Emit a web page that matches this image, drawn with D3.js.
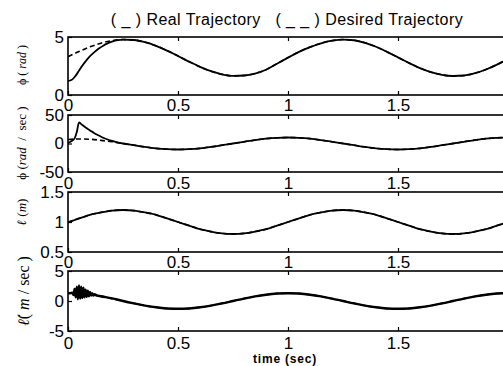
<!DOCTYPE html>
<html>
<head>
<meta charset="utf-8">
<script src="https://cdn.jsdelivr.net/npm/d3@7/dist/d3.min.js"></script>
<style>
  body { margin: 0; background: #fff; }
  svg { display: block; font-family: "Liberation Sans", Arial, sans-serif; }
</style>
</head>
<body>
<svg id="chart" width="503" height="366"></svg>
<script>
// time samples (sec)
var tGrid = [0, 0.05, 0.1, 0.15, 0.2, 0.25, 0.3, 0.35, 0.4, 0.45, 0.5, 0.55, 0.6, 0.65, 0.7, 0.75, 0.8, 0.85, 0.9, 0.95,
             1, 1.05, 1.1, 1.15, 1.2, 1.25, 1.3, 1.35, 1.4, 1.45, 1.5, 1.55, 1.6, 1.65, 1.7, 1.75, 1.8, 1.85, 1.9, 1.95, 2];

// phi (rad), desired
var phiDesired = [3.3, 3.75, 4.15, 4.47, 4.68, 4.78, 4.74, 4.55, 4.24, 3.83, 3.36, 2.88, 2.43, 2.05, 1.78, 1.65, 1.68, 1.85, 2.18, 2.7,
                  3.22, 3.72, 4.13, 4.46, 4.68, 4.78, 4.72, 4.5, 4.16, 3.72, 3.24, 2.76, 2.32, 1.97, 1.74, 1.64, 1.68, 1.88, 2.2, 2.62, 3.1];
// phi (rad), real, start transient
var phiRealT = [0, 0.01, 0.02, 0.03, 0.04, 0.05, 0.06, 0.08, 0.1, 0.12, 0.14, 0.16, 0.18, 0.2, 0.22];
var phiReal  = [1.22, 1.25, 1.35, 1.55, 1.8, 2.1, 2.4, 2.9, 3.35, 3.7, 4.0, 4.25, 4.45, 4.6, 4.7];

// phi dot (rad/sec)
var phiDotDesired = [7, 8, 7.5, 5.5, 3, 0, -3, -6, -8.5, -10, -10.5, -10, -8.5, -6, -3, 0, 3, 6, 8.5, 10,
                     10.5, 10, 8.5, 6, 3, 0, -3, -6, -8.5, -10, -10.5, -10, -8.5, -6, -3, 0, 3, 6, 8.5, 10, 10.5];
var phiDotRealT = [0, 0.015, 0.03, 0.04, 0.05, 0.06, 0.08, 0.1, 0.12, 0.14, 0.16, 0.18, 0.2, 0.22];
var phiDotReal  = [1, 4, 9, 20, 37, 34, 28, 23, 18, 14, 10, 7, 4.5, 2.5];

// l (m)
var lenDesired = [1.0, 1.06, 1.12, 1.16, 1.19, 1.2, 1.19, 1.16, 1.12, 1.06, 1.0, 0.94, 0.88, 0.84, 0.81, 0.8, 0.81, 0.84, 0.88, 0.94,
                  1.0, 1.06, 1.12, 1.16, 1.19, 1.2, 1.19, 1.16, 1.12, 1.06, 1.0, 0.94, 0.88, 0.84, 0.81, 0.8, 0.81, 0.84, 0.88, 0.94, 1.0];
var lenRealT = [0];
var lenReal  = [0.99];

// l dot (m/sec)
var lenDotDesired = [1.3, 1.24, 1.05, 0.76, 0.4, 0, -0.4, -0.76, -1.05, -1.24, -1.3, -1.24, -1.05, -0.76, -0.4, 0, 0.4, 0.76, 1.05, 1.24,
                     1.3, 1.24, 1.05, 0.76, 0.4, 0, -0.4, -0.76, -1.05, -1.24, -1.3, -1.24, -1.05, -0.76, -0.4, 0, 0.4, 0.76, 1.05, 1.24, 1.3];
var lenDotRealT = [0, 0.01, 0.02, 0.025, 0.03, 0.035, 0.04, 0.045, 0.05, 0.055, 0.06, 0.065, 0.07, 0.075, 0.08, 0.085,
                   0.09, 0.095, 0.1, 0.105, 0.11, 0.115, 0.12, 0.13, 0.15, 0.2];
var lenDotReal  = [1.3, 1.3, 1.4, 1.0, 2.0, 0.6, 2.4, 0.3, 2.6, 0.4, 2.4, 0.5, 2.2, 0.6, 1.9, 0.7,
                   1.7, 0.8, 1.5, 0.9, 1.3, 0.9, 1.15, 0.95, 0.8, 0.45];

var xTicks = [0, 0.5, 1, 1.5, 2];
var xTickLabels = [0, 0.5, 1, 1.5];

var panels = [
  { top: 37,  bottom: 95,  domain: [0, 5],     ticks: [0, 5],       pad: 3.5, des: phiDesired,    rt: phiRealT,    rv: phiReal },
  { top: 115, bottom: 172, domain: [-50, 50],  ticks: [-50, 0, 50], pad: 5,   des: phiDotDesired, rt: phiDotRealT, rv: phiDotReal },
  { top: 192, bottom: 252, domain: [0.5, 1.5], ticks: [0.5, 1, 1.5], pad: 4,  des: lenDesired,    rt: lenRealT,    rv: lenReal },
  { top: 271, bottom: 331, domain: [-5, 5],    ticks: [-5, 0, 5],   pad: 6,   des: lenDotDesired, rt: lenDotRealT, rv: lenDotReal }
];

var svg = d3.select("#chart");
svg.append("rect").attr("width", 503).attr("height", 366).attr("fill", "#fff");

var x = d3.scaleLinear().domain([0, 2]).range([68, 508]);

panels.forEach(function (p, i) {
  var y = d3.scaleLinear().domain(p.domain).range([p.bottom, p.top]);
  var g = svg.append("g");

  g.append("clipPath").attr("id", "clip" + i)
    .append("rect").attr("x", x(0)).attr("y", p.top).attr("width", x(2) - x(0)).attr("height", p.bottom - p.top);

  g.append("rect")
    .attr("x", x(0)).attr("y", p.top)
    .attr("width", x(2) - x(0)).attr("height", p.bottom - p.top)
    .attr("fill", "#fff");

  var desired = tGrid.map(function (t, k) { return [t, p.des[k]]; });
  var lastT = p.rt[p.rt.length - 1];
  var real = p.rt.map(function (t, k) { return [t, p.rv[k]]; })
    .concat(desired.filter(function (d) { return d[0] > lastT; }));

  var line = d3.line()
    .x(function (d) { return x(d[0]); })
    .y(function (d) { return y(d[1]); })
    .curve(d3.curveMonotoneX);

  var plot = g.append("g").attr("clip-path", "url(#clip" + i + ")");
  plot.append("path").attr("d", line(desired))
    .attr("fill", "none").attr("stroke", "#000").attr("stroke-width", 1.6)
    .attr("stroke-dasharray", "5,3");
  plot.append("path").attr("d", line(real))
    .attr("fill", "none").attr("stroke", "#000").attr("stroke-width", i == 3 ? 2.4 : 1.8);

  // axes
  var bottomAxis = g.append("g").attr("transform", "translate(0," + p.bottom + ")")
    .call(d3.axisBottom(x).tickValues(xTickLabels).tickSize(-4).tickPadding(p.pad)
      .tickFormat(function (d) { return String(d); }));
  var topAxis = g.append("g").attr("transform", "translate(0," + p.top + ")")
    .call(d3.axisTop(x).tickValues(xTicks.slice(1)).tickSize(-4).tickFormat(""));
  var leftAxis = g.append("g").attr("transform", "translate(" + x(0) + ",0)")
    .call(d3.axisLeft(y).tickValues(p.ticks).tickSize(-4).tickPadding(4)
      .tickFormat(function (d) { return String(d); }));

  [bottomAxis, topAxis, leftAxis].forEach(function (a) {
    a.select(".domain").remove();
    a.selectAll("line").attr("stroke", "#000").attr("stroke-width", 1.2);
    a.selectAll("text").attr("fill", "#000").style("font-size", "17px")
      .style("font-family", "'Liberation Sans', Arial, sans-serif");
  });

  g.append("rect")
    .attr("x", x(0)).attr("y", p.top)
    .attr("width", x(2) - x(0)).attr("height", p.bottom - p.top)
    .attr("fill", "none").attr("stroke", "#000").attr("stroke-width", 1.6);
});

// y labels
function yLabel(cx, cy, size, parts) {
  var t = svg.append("text")
    .attr("transform", "translate(" + cx + "," + cy + ") rotate(-90)")
    .attr("text-anchor", "middle")
    .style("font-family", "'Liberation Serif', 'DejaVu Serif', serif")
    .style("font-size", size + "px")
    .style("white-space", "pre")
    .attr("fill", "#000");
  parts.forEach(function (s) {
    t.append("tspan").text(s[0]).style("font-style", s[1] ? "italic" : "normal");
  });
}
yLabel(26, 65, 12, [["\u03d5 ( ", false], ["rad", true], [" )", false]]);
yLabel(26, 143, 13, [["\u03d5 (", false], ["rad", true], ["  /  sec )", false]]);
yLabel(26, 212, 13, [["\u2113", true], [" (", false], ["m", true], [")", false]]);
yLabel(29, 291, 16, [["\u2113\u0307", true], ["( ", false], ["m", true], [" / sec )", false]]);

// title and x label
svg.append("text").attr("x", 287).attr("y", 25).attr("text-anchor", "middle")
  .style("font-size", "16px").style("white-space", "pre").style("letter-spacing", "0.45px")
  .attr("fill", "#000")
  .text("( _ ) Real Trajectory   ( _ _ ) Desired Trajectory");

svg.append("text").attr("x", 285).attr("y", 363).attr("text-anchor", "middle")
  .style("font-size", "12px").style("font-weight", "bold").style("letter-spacing", "0.8px")
  .attr("fill", "#000")
  .text("time (sec)");
</script>
</body>
</html>
